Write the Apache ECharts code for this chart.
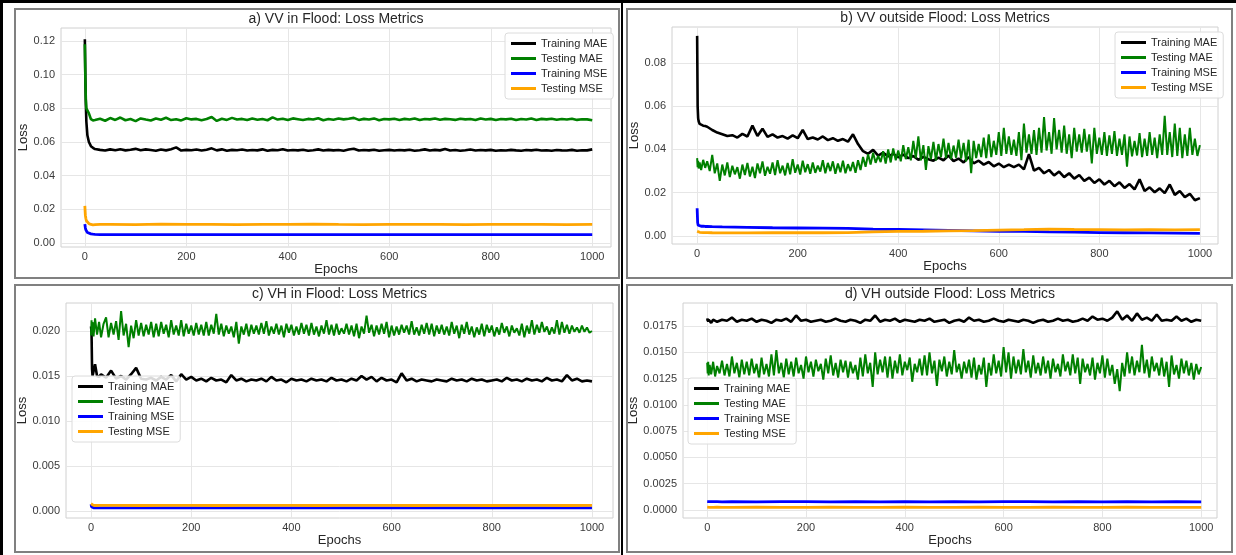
<!DOCTYPE html>
<html>
<head>
<meta charset="utf-8">
<title>Loss Metrics</title>
<script src="https://cdn.jsdelivr.net/npm/echarts@6/dist/echarts.min.js"></script>
<style>
  html, body { margin: 0; padding: 0; background: #fff; }
  #chart { width: 1236px; height: 555px; }
</style>
</head>
<body>
<div id="chart"></div>
<script>
// epochs the values were read at (early epochs dense, then every 5 / 10 / 50)
const fineEpochs = [0, 1, 2, 3, 5, 8, 12, 16, 20, 25].concat(Array.from({length: 195}, (_, i) => 30 + 5 * i));
const denseEpochs = [0, 1, 2, 3, 5, 8, 12, 16, 20].concat(Array.from({length: 98}, (_, i) => 30 + 10 * i));
const coarseEpochs = [0, 1, 2, 3, 5, 8, 12, 16, 20, 30].concat(Array.from({length: 20}, (_, i) => 50 + 50 * i));

const seriesNames = ['Training MAE', 'Testing MAE', 'Training MSE', 'Testing MSE'];
const xTicks = [0, 200, 400, 600, 800, 1000];

// a) VV in Flood
const aTrainMAE = [0.121, 0.098, 0.082, 0.072, 0.064, 0.060, 0.0575, 0.0565, 0.0558,
  0.0553, 0.0549, 0.0556, 0.0551, 0.0557, 0.0550, 0.0554, 0.0559, 0.0551, 0.0556,
  0.0552, 0.0548, 0.0555, 0.0550, 0.0557, 0.0568, 0.0549, 0.0553, 0.0551, 0.0555,
  0.0549, 0.0554, 0.0562, 0.0550, 0.0556, 0.0548, 0.0553, 0.0551, 0.0555, 0.0549,
  0.0552, 0.0550, 0.0556, 0.0548, 0.0553, 0.0551, 0.0557, 0.0549, 0.0552, 0.0550,
  0.0554, 0.0548, 0.0551, 0.0556, 0.0549, 0.0553, 0.0550, 0.0552, 0.0548, 0.0555,
  0.0560, 0.0549, 0.0552, 0.0550, 0.0554, 0.0548, 0.0551, 0.0553, 0.0549, 0.0552,
  0.0550, 0.0554, 0.0548, 0.0551, 0.0556, 0.0549, 0.0553, 0.0550, 0.0558, 0.0549,
  0.0552, 0.0548, 0.0551, 0.0555, 0.0549, 0.0552, 0.0550, 0.0553, 0.0548, 0.0551,
  0.0549, 0.0553, 0.0550, 0.0548, 0.0552, 0.0550, 0.0554, 0.0549, 0.0551, 0.0548,
  0.0552, 0.0550, 0.0549, 0.0553, 0.0548, 0.0551, 0.0550, 0.0556];
const aTestMAE = [0.118, 0.097, 0.085, 0.080, 0.081, 0.077, 0.0735, 0.0728, 0.0730,
  0.0738, 0.0726, 0.0742, 0.0731, 0.0745, 0.0729, 0.0736, 0.0724, 0.0740, 0.0733,
  0.0727, 0.0739, 0.0732, 0.0744, 0.0730, 0.0735, 0.0728, 0.0741, 0.0734, 0.0737,
  0.0729, 0.0736, 0.0748, 0.0725, 0.0738, 0.0731, 0.0743, 0.0733, 0.0737, 0.0730,
  0.0739, 0.0732, 0.0736, 0.0729, 0.0746, 0.0733, 0.0738, 0.0731, 0.0740, 0.0735,
  0.0730, 0.0737, 0.0733, 0.0741, 0.0729, 0.0736, 0.0732, 0.0739, 0.0734, 0.0738,
  0.0743, 0.0731, 0.0737, 0.0733, 0.0740, 0.0729, 0.0736, 0.0734, 0.0738, 0.0731,
  0.0737, 0.0733, 0.0740, 0.0730, 0.0736, 0.0734, 0.0739, 0.0732, 0.0737, 0.0735,
  0.0731, 0.0738, 0.0734, 0.0736, 0.0730, 0.0739, 0.0733, 0.0737, 0.0731, 0.0736,
  0.0734, 0.0738, 0.0730, 0.0736, 0.0733, 0.0739, 0.0731, 0.0737, 0.0734, 0.0738,
  0.0732, 0.0736, 0.0733, 0.0738, 0.0731, 0.0735, 0.0734, 0.0729];
const aTrainMSE = [0.0112, 0.0090, 0.0078, 0.0070, 0.0062, 0.0057, 0.0054, 0.0052, 0.0051, 0.0050,
  0.0050, 0.0049, 0.0050, 0.0049, 0.0050, 0.0049, 0.0049, 0.0050, 0.0049, 0.0049,
  0.0050, 0.0049, 0.0049, 0.0049, 0.0050, 0.0049, 0.0049, 0.0049, 0.0049, 0.0049];
const aTestMSE = [0.0220, 0.0165, 0.0145, 0.0132, 0.0122, 0.0115, 0.0110, 0.0108, 0.0109, 0.0110,
  0.0111, 0.0109, 0.0112, 0.0110, 0.0111, 0.0109, 0.0111, 0.0110, 0.0112, 0.0110,
  0.0109, 0.0111, 0.0110, 0.0111, 0.0109, 0.0110, 0.0111, 0.0110, 0.0109, 0.0110];
const aYTicks = [0, 0.02, 0.04, 0.06, 0.08, 0.10, 0.12];

// b) VV outside Flood
const bTrainMAE = [0.0925, 0.0600, 0.0545, 0.0530, 0.0518, 0.0512, 0.0510, 0.0508, 0.0505,
  0.0490, 0.0478, 0.0470, 0.0462, 0.0466, 0.0455, 0.0472, 0.0460, 0.0510, 0.0462,
  0.0496, 0.0458, 0.0470, 0.0455, 0.0462, 0.0450, 0.0465, 0.0452, 0.0490, 0.0448,
  0.0455, 0.0446, 0.0460, 0.0443, 0.0452, 0.0440, 0.0448, 0.0436, 0.0470, 0.0425,
  0.0392, 0.0380, 0.0398, 0.0372, 0.0385, 0.0368, 0.0380, 0.0364, 0.0376, 0.0360,
  0.0370, 0.0352, 0.0366, 0.0355, 0.0348, 0.0362, 0.0350, 0.0372, 0.0346, 0.0358,
  0.0340, 0.0365, 0.0336, 0.0348, 0.0330, 0.0342, 0.0322, 0.0335, 0.0318, 0.0330,
  0.0318, 0.0330, 0.0308, 0.0378, 0.0302, 0.0315, 0.0290, 0.0305, 0.0280, 0.0298,
  0.0272, 0.0290, 0.0265, 0.0282, 0.0255, 0.0270, 0.0245, 0.0262, 0.0238, 0.0255,
  0.0230, 0.0248, 0.0222, 0.0240, 0.0215, 0.0262, 0.0208, 0.0225, 0.0202, 0.0220,
  0.0198, 0.0238, 0.0190, 0.0208, 0.0180, 0.0195, 0.0165, 0.0175];
const bTestMAE = [0.0360, 0.0318, 0.0348, 0.0312, 0.0340, 0.0305, 0.0352, 0.0315, 0.0345, 0.0300,
  0.0375, 0.0290, 0.0335, 0.0255, 0.0330, 0.0280, 0.0340, 0.0272, 0.0325, 0.0285,
  0.0318, 0.0265, 0.0330, 0.0282, 0.0338, 0.0275, 0.0320, 0.0268, 0.0335, 0.0290,
  0.0345, 0.0278, 0.0320, 0.0288, 0.0340, 0.0282, 0.0350, 0.0290, 0.0325, 0.0280,
  0.0338, 0.0285, 0.0355, 0.0292, 0.0330, 0.0284, 0.0348, 0.0295, 0.0332, 0.0288,
  0.0340, 0.0292, 0.0325, 0.0298, 0.0350, 0.0290, 0.0338, 0.0300, 0.0345, 0.0288,
  0.0335, 0.0295, 0.0348, 0.0290, 0.0332, 0.0300, 0.0342, 0.0292, 0.0350, 0.0305,
  0.0365, 0.0320, 0.0378, 0.0330, 0.0385, 0.0338, 0.0370, 0.0342, 0.0392, 0.0335,
  0.0400, 0.0340, 0.0405, 0.0350, 0.0395, 0.0345, 0.0420, 0.0355, 0.0410, 0.0350,
  0.0440, 0.0360, 0.0460, 0.0350, 0.0420, 0.0305, 0.0415, 0.0355, 0.0435, 0.0350,
  0.0425, 0.0365, 0.0450, 0.0360, 0.0430, 0.0355, 0.0418, 0.0362, 0.0445, 0.0358,
  0.0430, 0.0345, 0.0445, 0.0290, 0.0440, 0.0360, 0.0425, 0.0365, 0.0455, 0.0360,
  0.0470, 0.0365, 0.0440, 0.0375, 0.0480, 0.0370, 0.0500, 0.0380, 0.0460, 0.0375,
  0.0445, 0.0370, 0.0480, 0.0350, 0.0520, 0.0385, 0.0470, 0.0380, 0.0490, 0.0375,
  0.0500, 0.0385, 0.0550, 0.0395, 0.0480, 0.0380, 0.0545, 0.0400, 0.0490, 0.0385,
  0.0510, 0.0380, 0.0470, 0.0360, 0.0500, 0.0390, 0.0470, 0.0385, 0.0495, 0.0390,
  0.0470, 0.0335, 0.0500, 0.0380, 0.0455, 0.0375, 0.0480, 0.0370, 0.0465, 0.0380,
  0.0485, 0.0370, 0.0450, 0.0375, 0.0470, 0.0320, 0.0460, 0.0368, 0.0440, 0.0372,
  0.0475, 0.0365, 0.0450, 0.0370, 0.0480, 0.0375, 0.0455, 0.0360, 0.0470, 0.0375,
  0.0555, 0.0375, 0.0480, 0.0365, 0.0520, 0.0370, 0.0500, 0.0360, 0.0470, 0.0370,
  0.0500, 0.0375, 0.0450, 0.0370, 0.0420];
const bTrainMSE = [0.0128, 0.0062, 0.0050, 0.0047, 0.0046, 0.0045, 0.0045, 0.0044, 0.0044, 0.0043,
  0.0042, 0.0040, 0.0038, 0.0037, 0.0036, 0.0035, 0.0032, 0.0030, 0.0028, 0.0026,
  0.0024, 0.0022, 0.0021, 0.0019, 0.0018, 0.0016, 0.0015, 0.0014, 0.0013, 0.0012];
const bTestMSE = [0.0022, 0.0020, 0.0019, 0.0018, 0.0017, 0.0017, 0.0016, 0.0016, 0.0016, 0.0015,
  0.0014, 0.0014, 0.0015, 0.0015, 0.0015, 0.0016, 0.0019, 0.0021, 0.0022, 0.0024,
  0.0025, 0.0027, 0.0029, 0.0032, 0.0030, 0.0029, 0.0028, 0.0029, 0.0028, 0.0029];
const bYTicks = [0, 0.02, 0.04, 0.06, 0.08];

// c) VH in Flood
const cTrainMAE = [0.0205, 0.0198, 0.0158, 0.0150, 0.0149, 0.0163, 0.0150, 0.0149, 0.0152,
  0.0148, 0.0156, 0.0147, 0.0150, 0.0146, 0.0152, 0.0159, 0.0147, 0.0146, 0.0148,
  0.0145, 0.0149, 0.0146, 0.0151, 0.0144, 0.0152, 0.0146, 0.0149, 0.0145, 0.0147,
  0.0144, 0.0148, 0.0145, 0.0146, 0.0143, 0.0151, 0.0145, 0.0147, 0.0144, 0.0146,
  0.0145, 0.0147, 0.0144, 0.0149, 0.0145, 0.0146, 0.0143, 0.0147, 0.0145, 0.0146,
  0.0144, 0.0147, 0.0145, 0.0146, 0.0144, 0.0148, 0.0145, 0.0146, 0.0144, 0.0147,
  0.0145, 0.0150, 0.0146, 0.0149, 0.0144, 0.0148, 0.0145, 0.0146, 0.0143, 0.0153,
  0.0145, 0.0147, 0.0144, 0.0146, 0.0145, 0.0144, 0.0146, 0.0145, 0.0144, 0.0147,
  0.0145, 0.0146, 0.0144, 0.0147, 0.0145, 0.0146, 0.0144, 0.0145, 0.0146, 0.0144,
  0.0148, 0.0145, 0.0146, 0.0144, 0.0147, 0.0145, 0.0146, 0.0144, 0.0148, 0.0145,
  0.0146, 0.0144, 0.0151, 0.0145, 0.0147, 0.0144, 0.0145, 0.0144];
const cTestMAE = [0.0195, 0.0212, 0.0198, 0.0210, 0.0194, 0.0214, 0.0196, 0.0210, 0.0193, 0.0208,
  0.0215, 0.0193, 0.0209, 0.0196, 0.0211, 0.0190, 0.0222, 0.0195, 0.0208, 0.0182,
  0.0206, 0.0192, 0.0212, 0.0195, 0.0209, 0.0194, 0.0207, 0.0196, 0.0210, 0.0193,
  0.0208, 0.0194, 0.0210, 0.0197, 0.0207, 0.0193, 0.0212, 0.0196, 0.0206, 0.0195,
  0.0212, 0.0194, 0.0208, 0.0197, 0.0206, 0.0195, 0.0209, 0.0196, 0.0207, 0.0195,
  0.0210, 0.0195, 0.0207, 0.0197, 0.0219, 0.0196, 0.0208, 0.0194, 0.0206, 0.0197,
  0.0205, 0.0193, 0.0210, 0.0186, 0.0205, 0.0196, 0.0208, 0.0194, 0.0207, 0.0197,
  0.0206, 0.0196, 0.0209, 0.0197, 0.0211, 0.0195, 0.0205, 0.0197, 0.0208, 0.0196,
  0.0206, 0.0193, 0.0208, 0.0198, 0.0207, 0.0195, 0.0205, 0.0196, 0.0209, 0.0197,
  0.0207, 0.0195, 0.0209, 0.0196, 0.0205, 0.0194, 0.0206, 0.0197, 0.0212, 0.0196,
  0.0207, 0.0195, 0.0208, 0.0196, 0.0203, 0.0197, 0.0208, 0.0196, 0.0206, 0.0194,
  0.0208, 0.0192, 0.0205, 0.0197, 0.0217, 0.0198, 0.0207, 0.0194, 0.0206, 0.0196,
  0.0208, 0.0197, 0.0210, 0.0193, 0.0206, 0.0195, 0.0205, 0.0196, 0.0207, 0.0198,
  0.0206, 0.0196, 0.0211, 0.0196, 0.0204, 0.0195, 0.0207, 0.0197, 0.0209, 0.0196,
  0.0208, 0.0194, 0.0206, 0.0197, 0.0207, 0.0196, 0.0205, 0.0195, 0.0210, 0.0197,
  0.0206, 0.0192, 0.0207, 0.0197, 0.0210, 0.0196, 0.0205, 0.0193, 0.0204, 0.0196,
  0.0208, 0.0194, 0.0207, 0.0198, 0.0206, 0.0194, 0.0204, 0.0196, 0.0209, 0.0198,
  0.0205, 0.0194, 0.0206, 0.0198, 0.0203, 0.0195, 0.0208, 0.0193, 0.0206, 0.0197,
  0.0212, 0.0196, 0.0207, 0.0198, 0.0210, 0.0199, 0.0205, 0.0196, 0.0204, 0.0197,
  0.0212, 0.0196, 0.0210, 0.0198, 0.0207, 0.0197, 0.0206, 0.0199, 0.0204, 0.0198,
  0.0206, 0.0199, 0.0204, 0.0198, 0.0200];
const cTrainMSE = [0.00075, 0.00048, 0.00040, 0.00037, 0.00036, 0.00035, 0.00035, 0.00034, 0.00035, 0.00034,
  0.00035, 0.00034, 0.00035, 0.00034, 0.00035, 0.00035, 0.00034, 0.00035, 0.00034, 0.00035,
  0.00034, 0.00035, 0.00035, 0.00034, 0.00035, 0.00034, 0.00035, 0.00034, 0.00035, 0.00034];
const cTestMSE = [0.00080, 0.00070, 0.00065, 0.00063, 0.00062, 0.00062, 0.00061, 0.00062, 0.00063, 0.00062,
  0.00062, 0.00061, 0.00063, 0.00062, 0.00061, 0.00062, 0.00063, 0.00062, 0.00061, 0.00062,
  0.00062, 0.00063, 0.00061, 0.00062, 0.00062, 0.00061, 0.00063, 0.00062, 0.00061, 0.00062];
const cYTicks = [0, 0.005, 0.010, 0.015, 0.020];

// d) VH outside Flood
const dTrainMAE = [0.0180, 0.0182, 0.0179, 0.0181, 0.0180, 0.0178, 0.0181, 0.0180, 0.0179,
  0.0181, 0.0180, 0.0183, 0.0179, 0.0181, 0.0180, 0.0182, 0.0179, 0.0181, 0.0180,
  0.0178, 0.0181, 0.0180, 0.0182, 0.0179, 0.0185, 0.0180, 0.0181, 0.0179, 0.0180,
  0.0181, 0.0179, 0.0180, 0.0182, 0.0180, 0.0179, 0.0181, 0.0180, 0.0178, 0.0181,
  0.0180, 0.0185, 0.0179, 0.0181, 0.0180, 0.0182, 0.0179, 0.0181, 0.0180, 0.0179,
  0.0181, 0.0180, 0.0182, 0.0179, 0.0180, 0.0181, 0.0178, 0.0180, 0.0181, 0.0179,
  0.0183, 0.0180, 0.0181, 0.0179, 0.0180, 0.0182, 0.0180, 0.0179, 0.0181, 0.0180,
  0.0179, 0.0181, 0.0180, 0.0178, 0.0180, 0.0181, 0.0179, 0.0180, 0.0182, 0.0180,
  0.0181, 0.0179, 0.0180, 0.0182, 0.0180, 0.0184, 0.0181, 0.0182, 0.0180, 0.0183,
  0.0189, 0.0181, 0.0185, 0.0180, 0.0187, 0.0181, 0.0183, 0.0180, 0.0186, 0.0180,
  0.0181, 0.0180, 0.0184, 0.0180, 0.0182, 0.0179, 0.0181, 0.0180];
const dTestMAE = [0.0140, 0.0130, 0.0141, 0.0128, 0.0138, 0.0129, 0.0141, 0.0127, 0.0137, 0.0130,
  0.0142, 0.0128, 0.0139, 0.0127, 0.0146, 0.0130, 0.0140, 0.0126, 0.0143, 0.0129,
  0.0141, 0.0128, 0.0144, 0.0130, 0.0139, 0.0125, 0.0145, 0.0129, 0.0139, 0.0127,
  0.0148, 0.0128, 0.0152, 0.0130, 0.0140, 0.0126, 0.0144, 0.0129, 0.0141, 0.0127,
  0.0145, 0.0130, 0.0138, 0.0125, 0.0146, 0.0131, 0.0141, 0.0127, 0.0143, 0.0132,
  0.0139, 0.0124, 0.0144, 0.0130, 0.0147, 0.0128, 0.0140, 0.0126, 0.0143, 0.0131,
  0.0142, 0.0126, 0.0141, 0.0130, 0.0138, 0.0124, 0.0145, 0.0127, 0.0148, 0.0130,
  0.0140, 0.0117, 0.0150, 0.0129, 0.0143, 0.0131, 0.0146, 0.0126, 0.0146, 0.0125,
  0.0142, 0.0130, 0.0148, 0.0128, 0.0141, 0.0133, 0.0145, 0.0122, 0.0139, 0.0131,
  0.0144, 0.0128, 0.0147, 0.0128, 0.0150, 0.0130, 0.0142, 0.0118, 0.0143, 0.0132,
  0.0146, 0.0127, 0.0141, 0.0129, 0.0152, 0.0131, 0.0139, 0.0125, 0.0141, 0.0130,
  0.0143, 0.0126, 0.0145, 0.0124, 0.0138, 0.0129, 0.0145, 0.0117, 0.0140, 0.0128,
  0.0148, 0.0130, 0.0142, 0.0127, 0.0155, 0.0131, 0.0150, 0.0125, 0.0146, 0.0130,
  0.0143, 0.0129, 0.0153, 0.0131, 0.0142, 0.0126, 0.0147, 0.0130, 0.0140, 0.0128,
  0.0146, 0.0130, 0.0142, 0.0125, 0.0144, 0.0131, 0.0139, 0.0127, 0.0148, 0.0132,
  0.0141, 0.0128, 0.0148, 0.0130, 0.0145, 0.0120, 0.0144, 0.0131, 0.0139, 0.0128,
  0.0145, 0.0124, 0.0140, 0.0130, 0.0147, 0.0126, 0.0144, 0.0128, 0.0138, 0.0120,
  0.0134, 0.0113, 0.0140, 0.0127, 0.0150, 0.0130, 0.0146, 0.0128, 0.0142, 0.0131,
  0.0157, 0.0130, 0.0143, 0.0126, 0.0146, 0.0132, 0.0140, 0.0128, 0.0145, 0.0127,
  0.0141, 0.0117, 0.0147, 0.0129, 0.0138, 0.0125, 0.0144, 0.0130, 0.0142, 0.0128,
  0.0140, 0.0124, 0.0139, 0.0129, 0.0136];
const dTrainMSE = [0.00080, 0.00079, 0.00079, 0.00078, 0.00079, 0.00078, 0.00079, 0.00078, 0.00079, 0.00078,
  0.00079, 0.00078, 0.00079, 0.00079, 0.00078, 0.00079, 0.00078, 0.00079, 0.00078, 0.00079,
  0.00078, 0.00079, 0.00079, 0.00078, 0.00079, 0.00078, 0.00079, 0.00078, 0.00079, 0.00078];
const dTestMSE = [0.00027, 0.00026, 0.00027, 0.00026, 0.00026, 0.00027, 0.00026, 0.00026, 0.00027, 0.00026,
  0.00026, 0.00027, 0.00026, 0.00026, 0.00027, 0.00026, 0.00026, 0.00027, 0.00026, 0.00026,
  0.00027, 0.00026, 0.00026, 0.00027, 0.00026, 0.00026, 0.00027, 0.00026, 0.00026, 0.00026];
const dYTicks = [0, 0.0025, 0.005, 0.0075, 0.01, 0.0125, 0.015, 0.0175];

// 布局
const colors = ['#000000', '#008000', '#0000ff', '#ffa500'];
const font = 'Liberation Sans, Arial, sans-serif';
// 细采样的噪声线细一点，其余粗一点，模仿原图的带状效果
const lineWidth = xs => xs === fineEpochs ? 2 : xs === denseEpochs ? 2.6 : 2.8;

const panels = [
  {title: 'a) VV in Flood: Loss Metrics', grid: {left: 61, top: 28, width: 550, height: 219},
   x: [-47, 1037], y: [-0.0024, 0.1277], yTicks: aYTicks, digits: 2, yGap: 29,
   legend: {left: 505, top: 33}, frame: [15, 9, 604, 269],
   data: [[denseEpochs, aTrainMAE], [denseEpochs, aTestMAE], [coarseEpochs, aTrainMSE], [coarseEpochs, aTestMSE]]},
  {title: 'b) VV outside Flood: Loss Metrics', grid: {left: 672, top: 27, width: 546, height: 217},
   x: [-50, 1036], y: [-0.0037, 0.0966], yTicks: bYTicks, digits: 2, yGap: 29,
   legend: {left: 1115, top: 32}, frame: [627, 9, 605, 269],
   data: [[denseEpochs, bTrainMAE], [fineEpochs, bTestMAE], [coarseEpochs, bTrainMSE], [coarseEpochs, bTestMSE]]},
  {title: 'c) VH in Flood: Loss Metrics', grid: {left: 66, top: 303, width: 547, height: 215},
   x: [-50, 1042], y: [-0.00078, 0.02311], yTicks: cYTicks, digits: 3, yGap: 34,
   legend: {left: 72, top: 376}, frame: [15, 285, 604, 267],
   data: [[denseEpochs, cTrainMAE], [fineEpochs, cTestMAE], [coarseEpochs, cTrainMSE], [coarseEpochs, cTestMSE]]},
  {title: 'd) VH outside Flood: Loss Metrics', grid: {left: 683, top: 303, width: 534, height: 215},
   x: [-49, 1032], y: [-0.00076, 0.01969], yTicks: dYTicks, digits: 4, yGap: 39,
   legend: {left: 688, top: 378}, frame: [627, 285, 605, 267],
   data: [[denseEpochs, dTrainMAE], [fineEpochs, dTestMAE], [coarseEpochs, dTrainMSE], [coarseEpochs, dTestMSE]]}
];

panels.forEach(p => p.data.forEach(([xs, ys], k) => {
  if (xs.length !== ys.length) {
    throw new Error(p.title + ' ' + seriesNames[k] + ': ' + xs.length + ' epochs vs ' + ys.length + ' values');
  }
}));

const pairs = (xs, ys) => xs.map((x, i) => [x, ys[i]]);

const option = {
  backgroundColor: '#ffffff',
  animation: false,
  textStyle: {fontFamily: font},
  title: panels.map(p => ({
    text: p.title,
    left: p.grid.left + p.grid.width / 2,
    top: p.grid.top - 16,
    textAlign: 'center',
    padding: 0,
    textStyle: {fontFamily: font, fontSize: 14, fontWeight: 'normal', color: '#262626'}
  })),
  legend: panels.map(p => ({
    data: seriesNames,
    orient: 'vertical',
    left: p.legend.left,
    top: p.legend.top,
    icon: 'rect',
    itemWidth: 25,
    itemHeight: 3,
    itemGap: 4,
    padding: [5, 6, 5, 6],
    backgroundColor: 'rgba(255,255,255,0.85)',
    borderColor: '#dcdcdc',
    borderWidth: 1,
    borderRadius: 3,
    textStyle: {fontFamily: font, fontSize: 11, color: '#262626'}
  })),
  grid: panels.map(p => Object.assign({show: true, borderColor: '#d0d0d0', borderWidth: 1, backgroundColor: '#fff', containLabel: false}, p.grid)),
  xAxis: panels.map((p, i) => ({
    type: 'value', gridIndex: i, min: p.x[0], max: p.x[1],
    name: 'Epochs', nameLocation: 'middle', nameGap: 15,
    nameTextStyle: {fontFamily: font, fontSize: 13, color: '#262626'},
    axisLine: {show: false, onZero: false},
    axisTick: {show: true, length: 0, customValues: xTicks},
    axisLabel: {customValues: xTicks, margin: 4, fontSize: 11, color: '#3a3a3a', formatter: v => String(v)},
    splitLine: {show: true, lineStyle: {color: '#e6e6e6', width: 1}}
  })),
  yAxis: panels.map((p, i) => ({
    type: 'value', gridIndex: i, min: p.y[0], max: p.y[1],
    name: 'Loss', nameLocation: 'middle', nameGap: p.yGap,
    nameTextStyle: {fontFamily: font, fontSize: 13, color: '#262626'},
    axisLine: {show: false, onZero: false},
    axisTick: {show: true, length: 0, customValues: p.yTicks},
    axisLabel: {customValues: p.yTicks, margin: 6, fontSize: 11, color: '#3a3a3a', formatter: v => v.toFixed(p.digits)},
    splitLine: {show: true, lineStyle: {color: '#e6e6e6', width: 1}}
  })),
  series: [],
  graphic: []
};

panels.forEach((p, i) => {
  p.data.forEach(([xs, ys], k) => {
    option.series.push({
      type: 'line',
      name: seriesNames[k],
      xAxisIndex: i,
      yAxisIndex: i,
      data: pairs(xs, ys),
      showSymbol: false,
      symbol: 'none',
      color: colors[k],
      lineStyle: {color: colors[k], width: lineWidth(xs)},
      z: 2 + k
    });
  });
  const [fx, fy, fw, fh] = p.frame;
  option.graphic.push({type: 'rect', shape: {x: fx, y: fy, width: fw, height: fh}, style: {fill: null, stroke: '#808080', lineWidth: 2}, silent: true, z: 100});
});

// 外框黑线
option.graphic.push(
  {type: 'rect', shape: {x: 0, y: 0, width: 1236, height: 3}, style: {fill: '#000'}, silent: true, z: 100},
  {type: 'rect', shape: {x: 0, y: 0, width: 3, height: 555}, style: {fill: '#000'}, silent: true, z: 100},
  {type: 'rect', shape: {x: 621, y: 0, width: 2, height: 555}, style: {fill: '#000'}, silent: true, z: 100}
);

const chart = echarts.init(document.getElementById('chart'), null, {renderer: 'canvas'});
chart.setOption(option);
</script>
</body>
</html>
